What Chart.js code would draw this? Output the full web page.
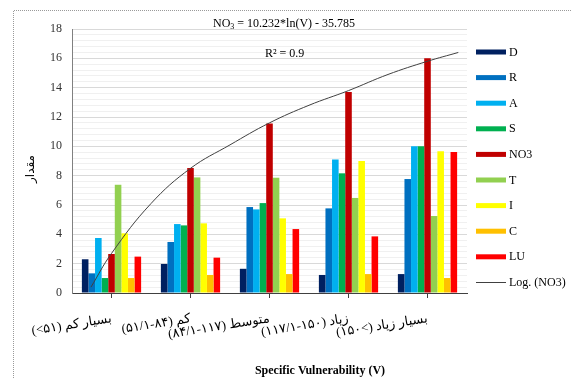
<!DOCTYPE html>
<html>
<head>
<meta charset="utf-8">
<script src="https://cdn.jsdelivr.net/npm/chart.js@4.4.1/dist/chart.umd.min.js"></script>
<style>
html,body{margin:0;padding:0;background:#fff;}
#wrap{width:571px;height:378px;position:relative;}
</style>
</head>
<body>
<div id="wrap"><canvas id="c" width="571" height="378"></canvas></div>
<script>
// ---- data ----
const categories = [
  "(<۵۱) بسیار کم",
  "(۵۱/۱-۸۴) کم",
  "(۸۴/۱-۱۱۷) متوسط",
  "(۱۱۷/۱-۱۵۰) زیاد",
  "(۱۵۰<) بسیار زیاد"
];
const seriesNames = ["D","R","A","S","NO3","T","I","C","LU"];
const D   = [2.30, 1.98, 1.65, 1.23, 1.29];
const R   = [1.34, 3.48, 5.86, 5.77, 7.77];
const A   = [3.75, 4.70, 5.70, 9.11, 10.0];
const S   = [1.02, 4.61, 6.13, 8.16, 10.0];
const NO3 = [2.66, 8.52, 11.55, 13.70, 16.0];
const T   = [7.38, 7.88, 7.86, 6.48, 5.25];
const I   = [4.07, 4.75, 5.09, 9.00, 9.66];
const C   = [1.02, 1.23, 1.29, 1.29, 1.02];
const LU  = [2.48, 2.41, 4.36, 3.86, 9.61];
// trend line (position along categories, value)
const trendX = [-0.26, 0, 0.5, 1, 1.5, 2, 2.5, 3, 3.5, 4, 4.39];
const trendY = [0.4, 2.7, 6.1, 8.5, 10.1, 11.6, 12.8, 13.8, 14.9, 15.8, 16.4];
const yTicks = [0, 2, 4, 6, 8, 10, 12, 14, 16, 18];
const trendName = "Log. (NO3)";
const equationMain = "NO";
const equationSub = "3";
const equationRest = " = 10.232*ln(V) - 35.785";
const r2Text = "R² = 0.9";
const xTitle = "Specific Vulnerability (V)";
const yTitle = "مقدار";

const colors = ["#002060","#0070C0","#00B0F0","#00B050","#C00000","#92D050","#FFFF00","#FFC000","#FF0000"];
const seriesValues = [D,R,A,S,NO3,T,I,C,LU];

const datasets = seriesNames.map((n,i)=>({
  type:'bar', label:n, xAxisID:'x',
  data:seriesValues[i].map((v,j)=>({x:j,y:v})),
  backgroundColor:colors[i],
  borderWidth:0, categoryPercentage:0.75, barPercentage:1.0, order:2
}));
datasets.push({
  type:'line', label:trendName, xAxisID:'x',
  data: trendX.map((x,i)=>({x:x,y:trendY[i]})),
  borderColor:'#404040', borderWidth:1, pointRadius:0, tension:0.4, fill:false, order:1
});

const SERIF = "'Liberation Serif','DejaVu Sans',serif";

const decor = {
  id:'decor',
  afterDraw(chart){
    const ctx = chart.ctx;
    ctx.save();
    // frame (dotted)
    ctx.strokeStyle='#9a9a9a'; ctx.lineWidth=1; ctx.setLineDash([1,1]);
    ctx.beginPath(); ctx.moveTo(13.5,378); ctx.lineTo(13.5,10.5); ctx.lineTo(571,10.5); ctx.stroke();
    ctx.setLineDash([]);
    // legend
    const items = chart.data.datasets;
    ctx.textBaseline='middle'; ctx.textAlign='left';
    ctx.font = "12px "+SERIF; ctx.fillStyle='#000';
    items.forEach((ds,i)=>{
      const y = 52 + i*25.6;
      if(ds.type==='line'){
        ctx.strokeStyle='#404040'; ctx.lineWidth=1;
        ctx.beginPath(); ctx.moveTo(476,Math.round(y)+0.5); ctx.lineTo(506,Math.round(y)+0.5); ctx.stroke();
      } else {
        ctx.fillStyle=ds.backgroundColor; ctx.fillRect(476, y-2.5, 30, 5);
      }
      ctx.fillStyle='#000';
      ctx.fillText(ds.label, 509, y+0.5);
    });
    // equation
    ctx.font = "12px "+SERIF; ctx.fillStyle='#000'; ctx.textBaseline='alphabetic';
    let x = 213, yb = 27;
    ctx.fillText(equationMain, x, yb); x += ctx.measureText(equationMain).width;
    ctx.font = "8px "+SERIF; ctx.fillText(equationSub, x, yb+2); x += ctx.measureText(equationSub).width;
    ctx.font = "12px "+SERIF; ctx.fillText(equationRest, x, yb);
    ctx.fillText(r2Text, 265, 57);
    // x title
    ctx.font = "bold 12px "+SERIF; ctx.textAlign='center';
    ctx.fillText(xTitle, 320, 374);
    // y title
    ctx.translate(31,169); ctx.rotate(-Math.PI/2);
    ctx.font = "12px 'DejaVu Sans',sans-serif"; ctx.textAlign='center'; ctx.textBaseline='middle';
    ctx.fillText(yTitle, 0, 0);
    ctx.restore();
  }
};

new Chart(document.getElementById('c'), {
  type:'bar',
  data:{datasets:datasets},
  options:{
    responsive:false, animation:false, devicePixelRatio:1,
    layout:{padding:{top:29,right:104,left:0,bottom:0}},
    plugins:{legend:{display:false}, tooltip:{enabled:false}},
    scales:{
      x:{
        type:'linear', offset:false, min:-0.5, max:4.5,
        grid:{display:true, offset:false, drawOnChartArea:false, drawTicks:true, tickLength:5, color:'#404040'},
        border:{display:true,color:'#404040',width:1},
        afterBuildTicks(s){ s.ticks = categories.map((c,i)=>({value:i})); },
        ticks:{minRotation:9, maxRotation:9, autoSkip:false, padding:13, color:'#000',
          font:{family:SERIF,size:13},
          callback:(v)=>{ const k=Math.round(v); return categories[k]!==undefined ? categories[k] : ''; }},
        afterFit(s){ s.height = 85; }
      },
      y:{
        min:0, max:18,
        ticks:{stepSize:0.4, autoSkip:false, color:'#333', padding:10,
          font:{family:SERIF,size:12},
          callback:(v)=>{ const k=Math.round(v/2); return (Math.abs(v-2*k)<1e-6 && yTicks.includes(2*k)) ? String(2*k) : ''; }},
        grid:{
          color:(c)=>{ const v=c.tick?c.tick.value:0; const k=Math.round(v/2); return Math.abs(v-2*k)<1e-6 ? '#d9d9d9' : '#f0f0f0'; },
          drawTicks:false, lineWidth:1
        },
        border:{display:true,color:'#808080',width:1},
        afterFit(s){ s.width = 72; }
      }
    }
  },
  plugins:[decor]
});
</script>
</body>
</html>
